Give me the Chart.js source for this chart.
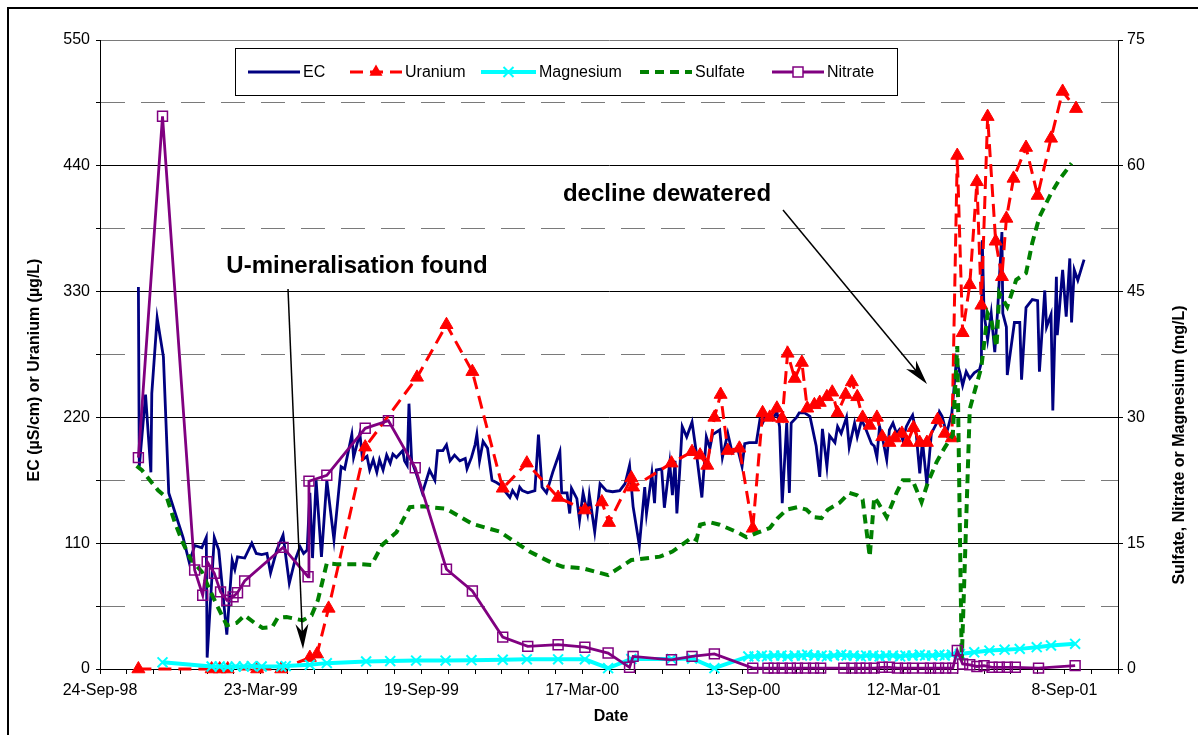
<!DOCTYPE html>
<html><head><meta charset="utf-8">
<script src="https://cdn.jsdelivr.net/npm/chart.js@4.4.1/dist/chart.umd.min.js"></script>
<style>html,body{margin:0;padding:0;background:#fff;}canvas{display:block;}</style>
</head><body>
<canvas id="c" width="1198" height="735"></canvas>
<script>
// Day 0 = 24-Sep-1998; x values are days after that date
const startDateUTC = Date.UTC(1998, 8, 24);
const monthNames = ['Jan','Feb','Mar','Apr','May','Jun','Jul','Aug','Sep','Oct','Nov','Dec'];

const ecDays = [43,44,51,57,58,64,71,77,93,100,106,114,119,120,128,133,142,148,151,154,162,170,175,181,187,191,198,205,212,218,224,228,232,235,238,242,248,254,262,270,274,282,284,291,294,299,302,306,310,313,317,321,325,328,332,339,341,344,346,349,355,361,369,375,378,384,388,392,397,403,409,411,416,420,422,425,429,434,439,444,450,453,459,462,467,470,473,479,487,491,495,500,507,515,517,523,526,528,534,537,541,546,548,554,560,567,574,582,588,593,597,604,610,612,618,621,623,629,632,638,641,644,646,649,652,657,663,668,674,679,683,686,694,697,703,708,714,719,722,727,735,739,742,746,753,758,761,764,769,772,774,780,783,789,795,798,802,806,809,814,817,823,826,830,836,839,845,848,853,858,864,867,870,873,876,881,884,888,892,895,899,903,907,910,914,918,921,926,931,937,940,943,948,954,959,963,966,970,974,979,985,987,988,990,994,998,1002,1005,1010,1011,1015,1016,1024,1030,1032,1037,1044,1050,1052,1058,1060,1065,1067,1071,1072,1077,1078,1082,1086,1088,1091,1095,1102];
const ecValues = [334,177,240,172,241,307,273,154,115,93,108,106,115,10,115,104,30,95,87,98,97,110,101,100,101,84,104,117,75,94,107,101,104,154,97,165,98,165,113,177,175,205,185,206,183,186,174,183,172,183,174,187,180,188,185,191,182,178,232,182,169,154,174,165,191,191,196,182,187,182,184,175,185,196,205,182,199,193,165,163,160,156,150,156,150,159,156,154,156,205,159,154,172,190,154,154,136,158,149,130,154,136,152,120,162,156,155,156,162,178,142,108,159,136,171,145,174,175,141,180,152,182,136,171,212,203,216,188,150,203,193,205,209,185,206,189,193,177,197,198,198,218,215,222,218,225,212,145,215,154,215,220,224,224,221,210,195,168,210,177,204,198,212,206,220,194,215,203,218,209,197,195,185,212,203,183,209,215,206,209,200,212,218,222,206,171,200,161,206,215,225,221,206,224,270,259,248,260,254,259,262,268,375,311,288,311,277,311,382,311,299,257,303,303,253,316,323,322,260,331,299,310,226,343,292,340,349,308,359,303,349,340,358];

const uraniumDays = [43,125,134,143,176,203,235,243,256,297,355,388,417,451,478,513,543,562,570,595,597,640,663,672,680,688,695,703,716,731,742,750,758,764,770,778,786,792,800,806,814,820,826,835,842,848,854,862,870,876,884,890,898,904,911,918,926,938,946,954,960,966,974,982,987,994,1003,1010,1015,1023,1037,1050,1065,1078,1093];
const uraniumValues = [0,0,0,0,0,0,10,13,53,194,255,301,260,158,180,150,139,146,128,167,159,180,190,187,178,220,240,191,193,123,224,220,228,219,276,254,268,228,231,233,238,242,224,240,251,238,220,213,220,203,198,202,206,198,211,198,198,218,206,202,449,294,336,426,318,483,374,343,394,429,456,414,464,505,490];

const magnesiumDays = [70,125,134,143,152,161,170,181,203,208,235,254,298,325,354,387,416,451,478,513,543,569,595,640,663,688,726,733,741,747,755,763,770,778,786,792,800,808,814,822,830,836,844,852,858,866,873,880,888,896,902,910,918,924,932,940,946,954,963,979,996,1013,1030,1049,1065,1092];
const magnesiumValues = [0.8,0.3,0.3,0.25,0.3,0.3,0.35,0.3,0.3,0.35,0.5,0.7,0.9,0.95,1.0,1.0,1.05,1.1,1.15,1.15,1.15,0.1,1.2,1.2,1.25,0.1,1.5,1.5,1.6,1.5,1.6,1.6,1.5,1.6,1.6,1.7,1.6,1.6,1.5,1.6,1.7,1.6,1.6,1.5,1.6,1.6,1.5,1.6,1.6,1.5,1.6,1.6,1.7,1.6,1.6,1.7,1.6,1.7,1.8,2.0,2.2,2.3,2.4,2.6,2.8,3.0];

const sulfateDays = [41,47,65,75,84,93,101,114,123,131,142,153,162,173,182,193,199,209,227,237,244,254,265,291,304,316,332,347,361,388,417,447,481,507,518,541,569,595,627,641,663,668,672,683,694,714,724,735,750,759,769,781,791,800,808,815,828,839,848,854,862,867,871,881,892,899,910,920,927,937,946,955,960,965,974,987,994,998,1004,1007,1016,1026,1037,1044,1052,1065,1074,1088];
const sulfateValues = [24.2,23.7,21.3,20.4,17.4,15.0,13.2,11.6,9.4,7.6,5.2,5.5,6.4,5.5,4.9,5.0,6.1,6.2,5.8,6.4,8.2,12.6,12.5,12.5,12.4,14.8,16.3,19.3,19.4,19.1,17.3,16.4,14.0,12.6,12.2,12.0,11.2,13.0,13.4,14.0,15.7,15.4,17.2,17.5,17.2,16.3,15.7,16.2,16.8,18.0,19.0,19.3,19.0,18.1,18.0,19.0,19.8,21.0,20.7,20.2,13.4,20.5,19.9,18.1,21.0,22.5,22.5,19.9,22.2,24.7,26.4,27.9,38.5,1.0,31.0,36.0,42.4,41.6,38.4,44.8,43.2,46.4,47.2,50.8,53.9,56.7,58.3,60.3];

const nitrateDays = [43,70,106,115,120,128,135,142,149,154,162,205,233,234,254,297,323,353,388,417,451,479,513,543,569,593,597,640,663,688,731,748,755,764,773,781,790,799,807,833,842,851,858,867,876,884,893,902,910,922,930,939,947,955,960,966,974,982,990,999,1007,1016,1025,1051,1092];
const nitrateValues = [25.2,65.9,11.8,8.8,12.8,11.4,9.2,8.2,8.6,9.1,10.5,14.5,11.0,22.4,23.1,28.7,29.6,24.0,11.9,9.3,3.8,2.7,2.9,2.6,1.9,0.2,1.5,1.1,1.5,1.8,0.1,0.1,0.1,0.1,0.1,0.1,0.1,0.1,0.1,0.1,0.1,0.1,0.1,0.1,0.2,0.2,0.1,0.1,0.1,0.1,0.1,0.1,0.1,0.1,2.2,0.6,0.5,0.3,0.4,0.2,0.2,0.2,0.2,0.1,0.4];

const leftTicksMax = 550, leftStep = 55, leftLabelStep = 110;
const rightTicksMax = 75, rightStep = 15;
const xMaxDays = 1140, xMinorStep = 30, xLabelStep = 180;

const FONT = "'Liberation Sans', Arial, sans-serif";
function fmtDay(d) {
  const dt = new Date(startDateUTC + d * 86400000);
  return dt.getUTCDate() + '-' + monthNames[dt.getUTCMonth()] + '-' + String(dt.getUTCFullYear()).slice(2);
}
function pts(days, vals) { return days.map((d, i) => ({x: d, y: vals[i]})); }

const series = {
  ec: {color: '#000080', width: 2.8, dash: []},
  u: {color: '#FF0000', width: 3, dash: [13, 7]},
  mg: {color: '#00FFFF', width: 4, dash: []},
  so4: {color: '#008000', width: 4, dash: [9, 6]},
  no3: {color: '#800080', width: 2.8, dash: []}
};

function drawMarker(ctx, type, x, y, color) {
  ctx.save();
  ctx.setLineDash([]);
  if (type === 'triangle') {
    const r = 7.5;
    ctx.fillStyle = color;
    ctx.beginPath();
    ctx.moveTo(x, y - r);
    ctx.lineTo(x + r * 0.866, y + r * 0.5);
    ctx.lineTo(x - r * 0.866, y + r * 0.5);
    ctx.closePath();
    ctx.fill();
  } else if (type === 'cross') {
    const s = 5;
    ctx.strokeStyle = color; ctx.lineWidth = 2;
    ctx.beginPath();
    ctx.moveTo(x - s, y - s); ctx.lineTo(x + s, y + s);
    ctx.moveTo(x - s, y + s); ctx.lineTo(x + s, y - s);
    ctx.stroke();
  } else if (type === 'square') {
    const s = 5;
    ctx.strokeStyle = color; ctx.lineWidth = 1.5;
    ctx.fillStyle = '#fff';
    ctx.fillRect(x - s, y - s, 2 * s, 2 * s);
    ctx.strokeRect(x - s, y - s, 2 * s, 2 * s);
  }
  ctx.restore();
}

function arrow(ctx, x1, y1, x2, y2) {
  const ang = Math.atan2(y2 - y1, x2 - x1);
  const L = 25, W = 6.5;
  ctx.save();
  ctx.strokeStyle = '#000'; ctx.fillStyle = '#000'; ctx.lineWidth = 1.5;
  ctx.beginPath();
  ctx.moveTo(x1, y1);
  ctx.lineTo(x2 - Math.cos(ang) * 10, y2 - Math.sin(ang) * 10);
  ctx.stroke();
  const bx = x2 - Math.cos(ang) * L, by = y2 - Math.sin(ang) * L;
  const nx = -Math.sin(ang), ny = Math.cos(ang);
  const mx = x2 - Math.cos(ang) * L * 0.7, my = y2 - Math.sin(ang) * L * 0.7;
  ctx.beginPath();
  ctx.moveTo(x2, y2);
  ctx.lineTo(bx + nx * W, by + ny * W);
  ctx.lineTo(mx, my);
  ctx.lineTo(bx - nx * W, by - ny * W);
  ctx.closePath();
  ctx.fill();
  ctx.restore();
}

const overlay = {
  id: 'overlay',
  afterDraw(chart) {
    const ctx = chart.ctx;
    ctx.save();
    // outer frame
    ctx.strokeStyle = '#000'; ctx.lineWidth = 2;
    ctx.strokeRect(8, 8, 1200, 740);

    // legend
    ctx.fillStyle = '#fff';
    ctx.fillRect(235, 48, 662, 47);
    ctx.strokeStyle = '#000'; ctx.lineWidth = 1;
    ctx.strokeRect(235.5, 48.5, 662, 47);
    const ly = 72;
    const items = [
      {key: 'ec', text: 'EC', x1: 248, x2: 300, marker: null},
      {key: 'u', text: 'Uranium', x1: 350, x2: 402, marker: 'triangle'},
      {key: 'mg', text: 'Magnesium', x1: 481, x2: 536, marker: 'cross'},
      {key: 'so4', text: 'Sulfate', x1: 640, x2: 692, marker: null},
      {key: 'no3', text: 'Nitrate', x1: 772, x2: 824, marker: 'square'}
    ];
    ctx.font = '16px ' + FONT;
    ctx.textBaseline = 'middle'; ctx.textAlign = 'left';
    items.forEach(it => {
      const s = series[it.key];
      ctx.save();
      ctx.strokeStyle = s.color; ctx.lineWidth = s.width;
      ctx.setLineDash(s.dash);
      ctx.beginPath(); ctx.moveTo(it.x1, ly); ctx.lineTo(it.x2, ly); ctx.stroke();
      ctx.restore();
      if (it.marker) drawMarker(ctx, it.marker, (it.x1 + it.x2) / 2, ly, s.color);
      ctx.fillStyle = '#000';
      ctx.fillText(it.text, it.x2 + 3, ly + 1);
    });

    // annotations
    ctx.fillStyle = '#000';
    ctx.font = 'bold 24px ' + FONT;
    ctx.textAlign = 'center'; ctx.textBaseline = 'middle';
    ctx.fillText('U-mineralisation found', 357, 266);
    ctx.fillText('decline dewatered', 667, 194);
    arrow(ctx, 288, 289, 303, 649);
    arrow(ctx, 783, 210, 927, 384);

    // axis titles
    ctx.font = 'bold 16px ' + FONT;
    ctx.fillText('Date', 611, 717);
    ctx.save();
    ctx.translate(35, 370); ctx.rotate(-Math.PI / 2);
    ctx.fillText('EC (\u00b5S/cm) or Uranium (\u00b5g/L)', 0, 0);
    ctx.restore();
    ctx.save();
    ctx.translate(1180, 445); ctx.rotate(-Math.PI / 2);
    ctx.fillText('Sulfate, Nitrate or Magnesium (mg/L)', 0, 0);
    ctx.restore();
    ctx.restore();
  }
};

const tickFont = {family: FONT, size: 16};
new Chart(document.getElementById('c').getContext('2d'), {
  type: 'line',
  data: {
    datasets: [
      {label: 'EC', data: pts(ecDays, ecValues), yAxisID: 'y', borderColor: series.ec.color, borderWidth: series.ec.width, pointRadius: 0, order: 5},
      {label: 'Uranium', data: pts(uraniumDays, uraniumValues), yAxisID: 'y', borderColor: series.u.color, borderWidth: series.u.width, borderDash: series.u.dash,
        pointStyle: 'triangle', pointRadius: 7.5, pointBackgroundColor: series.u.color, pointBorderColor: series.u.color, pointBorderWidth: 1, clip: false, order: 4},
      {label: 'Magnesium', data: pts(magnesiumDays, magnesiumValues), yAxisID: 'y2', borderColor: series.mg.color, borderWidth: series.mg.width,
        pointStyle: 'crossRot', pointRadius: 7, pointBorderColor: series.mg.color, pointBorderWidth: 2, clip: false, order: 3},
      {label: 'Sulfate', data: pts(sulfateDays, sulfateValues), yAxisID: 'y2', borderColor: series.so4.color, borderWidth: series.so4.width, borderDash: series.so4.dash, pointRadius: 0, order: 2},
      {label: 'Nitrate', data: pts(nitrateDays, nitrateValues), yAxisID: 'y2', borderColor: series.no3.color, borderWidth: series.no3.width,
        pointStyle: 'rect', pointRadius: 7, pointBackgroundColor: 'rgba(0,0,0,0)', pointBorderColor: series.no3.color, pointBorderWidth: 1.5, clip: false, order: 1}
    ]
  },
  options: {
    responsive: false, animation: false, devicePixelRatio: 1,
    layout: {padding: {top: 40, left: 0, right: 0, bottom: 0}},
    plugins: {legend: {display: false}, tooltip: {enabled: false}},
    elements: {line: {tension: 0, fill: false}},
    scales: {
      x: {type: 'linear', min: 0, max: xMaxDays,
        afterFit: s => { s.height = 66; },
        ticks: {stepSize: xMinorStep, autoSkip: false, maxRotation: 0, minRotation: 0, color: '#000', font: tickFont, padding: 7,
          callback: v => (v % xLabelStep === 0 ? fmtDay(v) : '')},
        grid: {drawOnChartArea: false, tickLength: 5, tickColor: '#000', lineWidth: 1},
        border: {color: '#000', width: 1}},
      y: {position: 'left', min: 0, max: leftTicksMax,
        afterFit: s => { s.width = 100; },
        ticks: {stepSize: leftStep, color: '#000', font: tickFont, padding: 6,
          callback: v => (v % leftLabelStep === 0 ? v : '')},
        grid: {lineWidth: 1, tickLength: 4, tickColor: '#000',
          color: c => (c.tick && c.tick.value % leftLabelStep === 0 && c.tick.value !== leftTicksMax) ? '#000' : '#7a7a7a'},
        border: {color: '#000', width: 1,
          dash: c => (c.tick && c.tick.value % leftLabelStep !== 0) ? [24, 16] : []}},
      y2: {position: 'right', min: 0, max: rightTicksMax,
        afterFit: s => { s.width = 80; },
        ticks: {stepSize: rightStep, color: '#000', font: tickFont, padding: 4},
        grid: {drawOnChartArea: false, tickLength: 5, tickColor: '#000'},
        border: {color: '#000', width: 1}}
    }
  },
  plugins: [overlay]
});
</script>
</body></html>
